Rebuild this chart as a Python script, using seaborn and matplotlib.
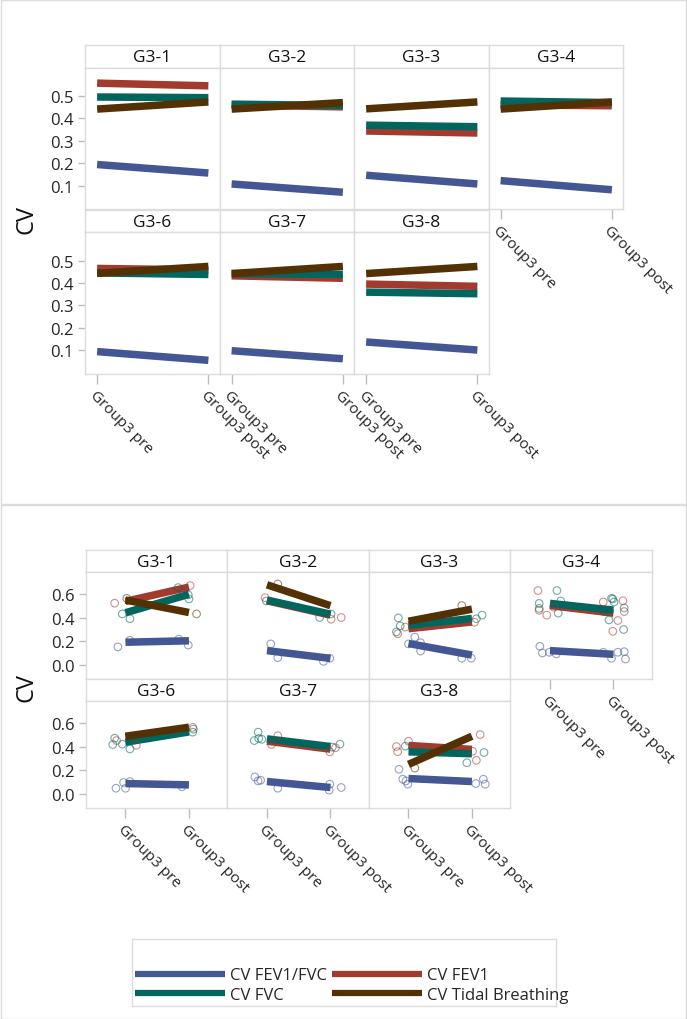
import numpy as np
import pandas as pd
import matplotlib
matplotlib.use("Agg")
import matplotlib.pyplot as plt
import seaborn as sns
from matplotlib.patches import Rectangle
from matplotlib.lines import Line2D
from matplotlib.ticker import FormatStrFormatter

# ---------------- data ----------------
groups = ["G3-1", "G3-2", "G3-3", "G3-4", "G3-6", "G3-7", "G3-8"]
timepoints = ["Group3 pre", "Group3 post"]
measures = ["CV FEV1/FVC", "CV FEV1", "CV FVC", "CV Tidal Breathing"]
colors = ["#445694", "#A23A2E", "#01665E", "#543005"]

# top panel (model lines)
top_fev1fvc_pre = [0.194, 0.107, 0.146, 0.122, 0.093, 0.097, 0.136]
top_fev1fvc_post = [0.156, 0.070, 0.107, 0.081, 0.054, 0.061, 0.100]
top_fev1_pre = [0.558, 0.460, 0.344, 0.461, 0.465, 0.432, 0.395]
top_fev1_post = [0.546, 0.452, 0.335, 0.457, 0.458, 0.421, 0.385]
top_fvc_pre = [0.496, 0.464, 0.370, 0.478, 0.445, 0.442, 0.359]
top_fvc_post = [0.493, 0.458, 0.363, 0.471, 0.438, 0.438, 0.352]
top_tidal_pre = [0.442, 0.442, 0.443, 0.442, 0.443, 0.442, 0.442]
top_tidal_post = [0.474, 0.471, 0.474, 0.474, 0.474, 0.474, 0.474]

# bottom panel (group means)
nan = np.nan
bot_fev1fvc_pre = [0.194, 0.124, 0.183, 0.124, 0.091, 0.108, 0.133]
bot_fev1fvc_post = [0.206, 0.059, 0.087, 0.093, 0.080, 0.058, 0.108]
bot_fev1_pre = [0.535, 0.540, 0.307, 0.500, 0.480, 0.445, 0.409]
bot_fev1_post = [0.654, 0.420, 0.363, 0.437, 0.550, 0.378, 0.376]
bot_fvc_pre = [0.440, 0.546, 0.335, 0.518, 0.436, 0.464, 0.356]
bot_fvc_post = [0.594, 0.428, 0.392, 0.462, 0.522, 0.400, 0.340]
bot_tidal_pre = [0.546, 0.673, 0.369, nan, 0.486, nan, 0.251]
bot_tidal_post = [0.442, 0.499, 0.470, nan, 0.561, nan, 0.486]

# bottom panel individual observations (x = timepoint index incl. jitter)
pt_group = (["G3-1"] * 13 + ["G3-2"] * 11 + ["G3-3"] * 15 + ["G3-4"] * 25
            + ["G3-6"] * 14 + ["G3-7"] * 17 + ["G3-8"] * 17)
pt_measure = (
    ["CV FEV1", "CV FVC", "CV FVC", "CV FEV1/FVC", "CV FEV1/FVC", "CV FEV1", "CV FVC",
     "CV FVC", "CV FVC", "CV Tidal Breathing", "CV FEV1/FVC", "CV FEV1/FVC", "CV Tidal Breathing"]
    + ["CV Tidal Breathing", "CV FEV1", "CV FVC", "CV FVC", "CV FEV1", "CV FEV1", "CV FVC",
       "CV FEV1/FVC", "CV FEV1/FVC", "CV FEV1/FVC", "CV FEV1/FVC"]
    + ["CV FVC", "CV FVC", "CV FVC", "CV FEV1", "CV FEV1", "CV FVC", "CV FVC", "CV FEV1",
       "CV Tidal Breathing", "CV FEV1/FVC", "CV FEV1/FVC", "CV FEV1/FVC", "CV FEV1/FVC",
       "CV FEV1/FVC", "CV FEV1/FVC"]
    + ["CV FVC"] * 5 + ["CV FEV1"] * 4 + ["CV FVC"] * 7 + ["CV FEV1"] * 5 + ["CV FEV1/FVC"] * 4
    + ["CV FVC"] * 6 + ["CV FEV1"] * 3 + ["CV FEV1/FVC"] * 5
    + ["CV FVC"] * 6 + ["CV FEV1"] * 4 + ["CV FEV1/FVC"] * 7
    + ["CV FEV1"] * 6 + ["CV FVC"] * 3 + ["CV FEV1/FVC"] * 7 + ["CV Tidal Breathing"]
)
pt_x = (
    [-0.17, -0.05, 0.07, -0.12, 0.07, 1.02, 0.99, 1.00, 0.83, 1.12, 0.99, 0.84, 0.02]
    + [0.17, -0.03, -0.01, 0.83, 1.01, 1.17, 1.01, 0.06, 0.17, 0.89, 0.99]
    + [-0.16, -0.13, -0.19, -0.17, -0.05, 1.07, 1.16, 1.04, 0.84, 0.10, 0.00, 0.19, 0.19, 0.84, 0.99]
    + [0.11, -0.17, -0.17, 0.13, 0.17, -0.19, -0.17, -0.05, 0.06,
       0.99, 1.01, 0.93, 1.16, 1.17, 0.85, 0.97, 0.84, 1.15, 1.07, 0.99, 1.17,
       -0.16, -0.12, -0.01, 0.10]
    + [-0.17, -0.20, -0.05, 0.07, 1.06, 1.07, -0.14, 0.17, 1.06, -0.15, -0.03, 0.07, 0.00, 0.89]
    + [-0.14, -0.20, -0.13, -0.08, 1.15, 1.03, 0.07, 0.17, 0.99, 1.08,
       -0.19, -0.14, -0.10, 0.17, 0.99, 0.98, 1.17]
    + [0.00, -0.19, -0.17, 1.13, 1.07, 1.01, -0.05, 1.19, 0.92,
       -0.15, -0.09, -0.04, -0.01, 1.06, 1.18, 1.21, 0.10]
)
pt_value = (
    [0.52, 0.43, 0.39, 0.155, 0.21, 0.667, 0.589, 0.555, 0.65, 0.43, 0.17, 0.22, 0.56]
    + [0.68, 0.566, 0.538, 0.40, 0.386, 0.40, 0.43, 0.18, 0.065, 0.034, 0.06]
    + [0.397, 0.33, 0.28, 0.265, 0.32, 0.39, 0.42, 0.36, 0.50, 0.237, 0.18, 0.12, 0.19, 0.06, 0.06]
    + [0.625, 0.518, 0.476, 0.437, 0.538, 0.625, 0.46, 0.42, 0.487,
       0.555, 0.53, 0.38, 0.30, 0.48, 0.45, 0.56, 0.53, 0.54, 0.375, 0.285, 0.45,
       0.16, 0.104, 0.11, 0.096]
    + [0.47, 0.417, 0.42, 0.38, 0.52, 0.545, 0.45, 0.41, 0.56, 0.052, 0.10, 0.108, 0.052, 0.064]
    + [0.52, 0.45, 0.467, 0.46, 0.42, 0.395, 0.417, 0.49, 0.356, 0.39,
       0.146, 0.113, 0.119, 0.052, 0.086, 0.036, 0.058]
    + [0.445, 0.40, 0.357, 0.50, 0.285, 0.36, 0.403, 0.35, 0.265,
       0.21, 0.127, 0.113, 0.086, 0.091, 0.127, 0.086, 0.22]
)
# extra blue points for G3-4 post (appended)
pt_group += ["G3-4"] * 5
pt_measure += ["CV FEV1/FVC"] * 5
pt_x += [0.84, 0.97, 1.07, 1.17, 1.19]
pt_value += [0.11, 0.06, 0.11, 0.115, 0.054]


def long_lines(series):
    rows = []
    for m, (pre, post) in zip(measures, series):
        for gi, g in enumerate(groups):
            for ti, v in enumerate((pre[gi], post[gi])):
                if not np.isnan(v):
                    rows.append({"group": g, "measure": m, "x": ti, "value": v})
    return pd.DataFrame(rows)


top_df = long_lines([(top_fev1fvc_pre, top_fev1fvc_post), (top_fev1_pre, top_fev1_post),
                     (top_fvc_pre, top_fvc_post), (top_tidal_pre, top_tidal_post)])
bot_df = long_lines([(bot_fev1fvc_pre, bot_fev1fvc_post), (bot_fev1_pre, bot_fev1_post),
                     (bot_fvc_pre, bot_fvc_post), (bot_tidal_pre, bot_tidal_post)])
pts_df = pd.DataFrame({"group": pt_group, "measure": pt_measure, "x": pt_x, "value": pt_value})

# ---------------- style ----------------
sns.set_theme(style="white")
plt.rcParams["font.family"] = ["Open Sans", "DejaVu Sans"]
W, H = 687, 1020
fig = plt.figure(figsize=(W / 100, H / 100), dpi=100)
fig.patch.set_facecolor("white")

GRID = "#dcdcdc"
TICKC = "#bdbdbd"


def rect(x, y, w, h):
    return [x / W, 1 - (y + h) / H, w / W, h / H]


def panel(df, pts, col_x, col_w, head_y, head_h, plot_h, ylim, yticks, xlim, cv_y):
    for i, g in enumerate(groups):
        r, c = divmod(i, 4)
        x0 = col_x[c]
        hy = head_y[r]
        # header strip
        hax = fig.add_axes(rect(x0, hy, col_w, head_h))
        hax.set_xticks([]); hax.set_yticks([])
        for s in hax.spines.values():
            s.set_color(GRID); s.set_linewidth(1)
        hax.text(0.5, 0.45, g, ha="center", va="center", fontsize=12.5, color="#111111",
                 transform=hax.transAxes)
        ax = fig.add_axes(rect(x0, hy + head_h, col_w, plot_h))
        sub = df[df.group == g]
        sns.lineplot(data=sub, x="x", y="value", hue="measure", hue_order=measures,
                     palette=colors, linewidth=5.4, legend=False, estimator=None,
                     sort=False, ax=ax)
        for ln in ax.lines:
            ln.set_solid_capstyle("butt")
        if pts is not None:
            psub = pts[pts.group == g]
            sns.scatterplot(data=psub, x="x", y="value", hue="measure", hue_order=measures,
                            palette=colors, s=30, marker="o", legend=False, ax=ax, zorder=5)
            coll = ax.collections[-1]
            fc = coll.get_facecolors()
            fc[:, 3] = 0.55
            coll.set_edgecolors(fc)
            coll.set_facecolors("none")
            coll.set_linewidths(0.8)
        ax.set_xlim(*xlim)
        ax.set_ylim(*ylim)
        ax.set_xlabel(""); ax.set_ylabel("")
        for s in ax.spines.values():
            s.set_color(GRID); s.set_linewidth(1)
        bottom = (r == 1) or (c == 3)
        if bottom:
            ax.set_xticks([0, 1])
            ax.set_xticklabels(timepoints, rotation=-45, ha="left", va="top",
                               rotation_mode="anchor", fontsize=11)
            ax.tick_params(axis="x", length=7, width=1, color=TICKC, direction="out",
                           bottom=True, pad=3)
        else:
            ax.set_xticks([])
        if c == 0:
            ax.set_yticks(yticks)
            ax.yaxis.set_major_formatter(FormatStrFormatter("%.1f"))
            ax.tick_params(axis="y", length=5, width=1, color=TICKC, direction="out",
                           left=True, labelsize=12, pad=3)
        else:
            ax.set_yticks([])
    fig.text(27 / W, 1 - cv_y / H, "CV", rotation=90, ha="center", va="center",
             fontsize=17, color="#111111")


# top panel
panel(top_df, None, [85, 219.5, 354, 488.5], 134.5, [46, 210.5], 22.5, 141.5,
      (-0.005, 0.628), [0.1, 0.2, 0.3, 0.4, 0.5], (-0.109, 1.1), 220)
# bottom panel
panel(bot_df, pts_df, [85.5, 227, 368.5, 510], 141.5, [551, 680], 22, 107,
      (-0.113, 0.78), [0.0, 0.2, 0.4, 0.6], (-0.63, 1.6), 688)

# legend box
lax = fig.add_axes(rect(132, 940, 424, 67))
lax.set_xticks([]); lax.set_yticks([])
for s in lax.spines.values():
    s.set_color(GRID); s.set_linewidth(1)
leg_order = [0, 2, 1, 3]
handles = [Line2D([0], [0], color=colors[k], lw=4.5, solid_capstyle="butt") for k in leg_order]
labels = [measures[k] for k in leg_order]
lax.legend(handles, labels, ncol=2, loc="lower left", bbox_to_anchor=(0.0, 0.0),
           frameon=False, fontsize=12, handlelength=5.4, handletextpad=0.3,
           columnspacing=0.3, labelspacing=0.2, borderaxespad=0.1, borderpad=0.1)

# section frames
fig.add_artist(Rectangle((0.5 / W, 1 - 505 / H), (W - 1.5) / W, 504.5 / H,
                         transform=fig.transFigure, fill=False, ec=GRID, lw=1))
fig.add_artist(Rectangle((0.5 / W, 0.5 / H), (W - 1.5) / W, (H - 505 - 1) / H,
                         transform=fig.transFigure, fill=False, ec=GRID, lw=1))

fig.savefig("out.png", dpi=100)
